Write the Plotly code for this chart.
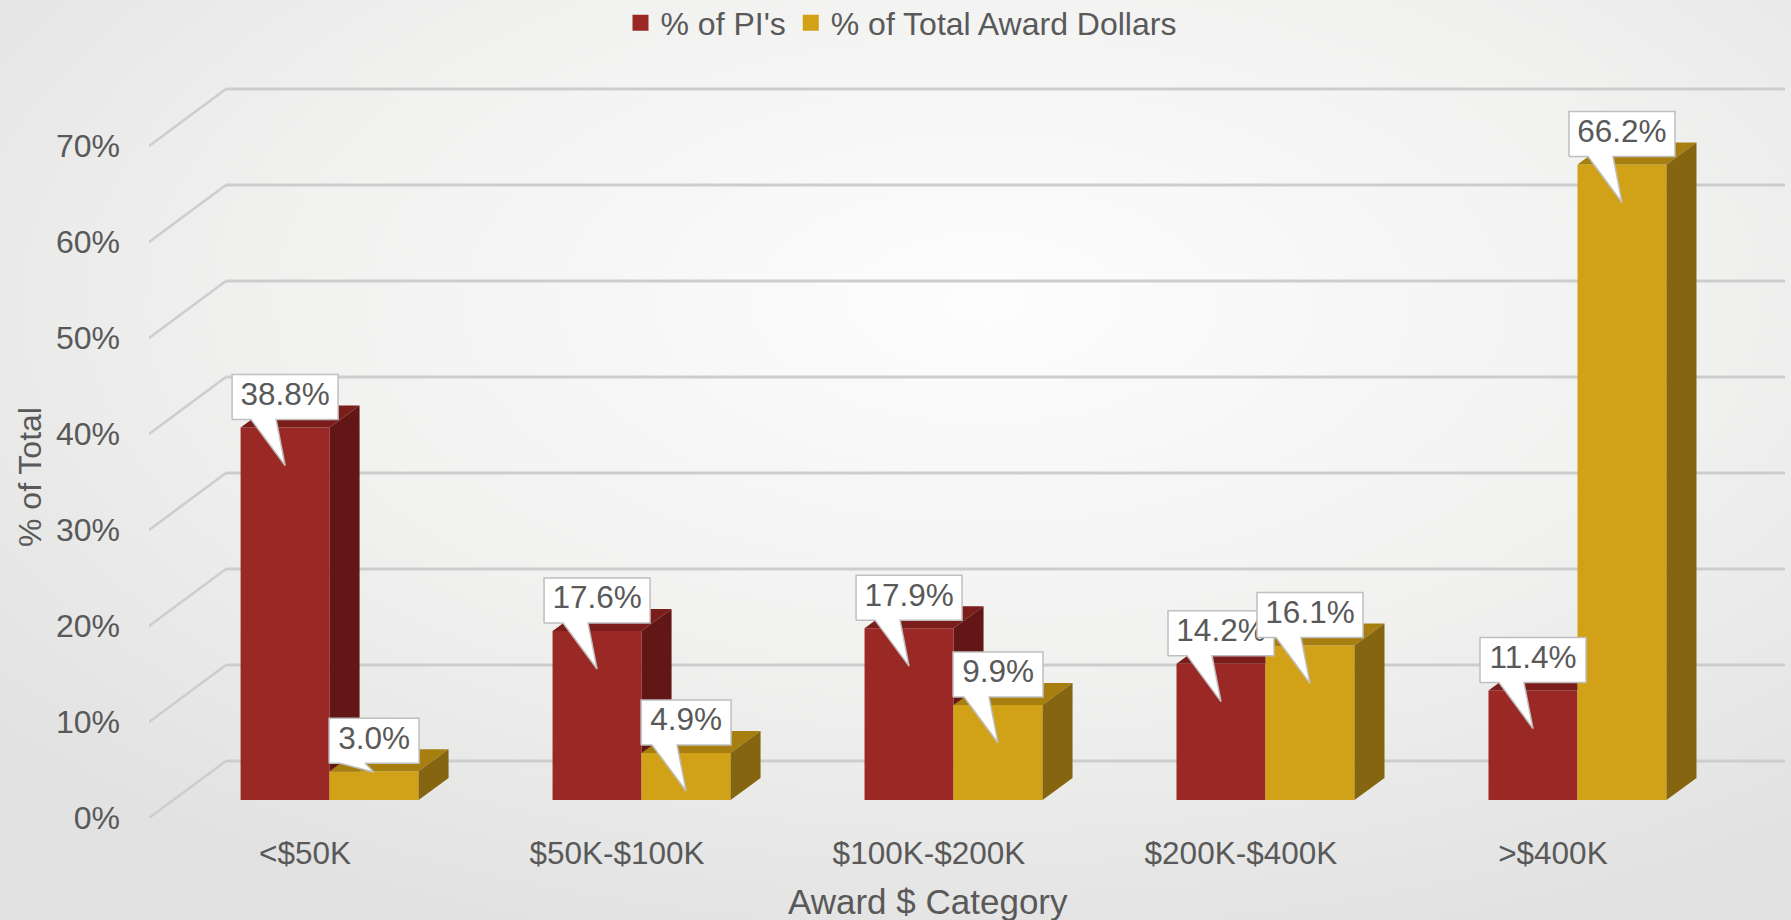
import base64
import plotly.graph_objects as go

# ---------------- data ----------------
categories = ["<$50K", "$50K-$100K", "$100K-$200K", "$200K-$400K", ">$400K"]
pct_pis = [38.8, 17.6, 17.9, 14.2, 11.4]
pct_dollars = [3.0, 4.9, 9.9, 16.1, 66.2]
series_names = ["% of PI's", "% of Total Award Dollars"]
y_tick_values = [0, 10, 20, 30, 40, 50, 60, 70]
y_tick_labels = ["0%", "10%", "20%", "30%", "40%", "50%", "60%", "70%"]
x_title = "Award $ Category"
y_title = "% of Total"

# ---------------- styling / geometry ----------------
FIG_W, FIG_H = 1791, 920
M_L, M_R, M_T, M_B = 149, 6, 85, 102
X_RANGE = [-0.5, 4.744]
Y_RANGE = [0.0, 76.35]
PLOT_W = FIG_W - M_L - M_R
PLOT_H = FIG_H - M_T - M_B
UX = (X_RANGE[1] - X_RANGE[0]) / PLOT_W   # x units per pixel
UY = (Y_RANGE[1] - Y_RANGE[0]) / PLOT_H   # y units per pixel

WALL_DX, WALL_DY = 77 * UX, 57 * UY       # back wall depth offset
BAR_PLANE_DX, BAR_PLANE_DY = 24.6 * UX, 18 * UY  # bars' front-face plane
DEP_DX, DEP_DY = 30 * UX, 22 * UY         # bar depth
BAR_W = 89 * UX

FONT = "Liberation Sans, Arial, sans-serif"
TXT = "#595959"
GRID = "#CDCDCD"
COLORS = {
    "front": ["#9A2824", "#D1A118"],
    "top": ["#7B1D1B", "#A67F10"],
    "side": ["#621716", "#856510"],
}

values = [pct_pis, pct_dollars]


def px_to_paper_x(px):
    return (px - M_L) / PLOT_W


def px_to_paper_y(py):
    return (M_T + PLOT_H - py) / PLOT_H


fig = go.Figure()

# front faces as real bars (on the shifted bar-plane axes)
for s in range(2):
    fig.add_trace(go.Bar(
        x=list(range(len(categories))), y=values[s], name=series_names[s],
        width=BAR_W, offset=-BAR_W if s == 0 else 0,
        marker=dict(color=COLORS["front"][s], line=dict(width=0)),
        xaxis="x2", yaxis="y2", hoverinfo="skip", showlegend=False,
    ))


def poly(pts, color, line_color=None, lw=0):
    xs = [p[0] for p in pts] + [pts[0][0]]
    ys = [p[1] for p in pts] + [pts[0][1]]
    return go.Scatter(
        x=xs, y=ys, mode="lines", fill="toself", fillcolor=color,
        line=dict(color=line_color or color, width=lw),
        xaxis="x2", yaxis="y2", showlegend=False, hoverinfo="skip",
    )


# 3D top and side faces, painter's order
for i in range(len(categories)):
    vr, vy = pct_pis[i], pct_dollars[i]
    xl, xr = i - BAR_W, i
    # red top
    if vy <= vr:
        pts = [(xl, vr), (xr, vr), (xr + DEP_DX, vr + DEP_DY), (xl + DEP_DX, vr + DEP_DY)]
    else:
        t1 = (vy - vr) / DEP_DY
        if t1 >= 1:
            pts = [(xl, vr), (xr, vr), (xr, vr + DEP_DY), (xl + DEP_DX, vr + DEP_DY)]
        else:
            pts = [(xl, vr), (xr, vr), (xr, vy), (xr + t1 * DEP_DX, vy),
                   (xr + DEP_DX, vr + DEP_DY), (xl + DEP_DX, vr + DEP_DY)]
    fig.add_trace(poly(pts, COLORS["top"][0]))
    # red side (only part above the yellow bar)
    if vr > vy:
        pts = [(xr, vy), (xr, vr), (xr + DEP_DX, vr + DEP_DY), (xr + DEP_DX, vy)]
        fig.add_trace(poly(pts, COLORS["side"][0]))
    # yellow top & side
    yl, yr = i, i + BAR_W
    fig.add_trace(poly([(yl, vy), (yr, vy), (yr + DEP_DX, vy + DEP_DY), (yl + DEP_DX, vy + DEP_DY)],
                       COLORS["top"][1]))
    fig.add_trace(poly([(yr, 0), (yr, vy), (yr + DEP_DX, vy + DEP_DY), (yr + DEP_DX, DEP_DY)],
                       COLORS["side"][1]))

# callout data labels
for i in range(len(categories)):
    for s in range(2):
        v = values[s][i]
        label = f"{v:.1f}%"
        cx = i - BAR_W / 2 if s == 0 else i + BAR_W / 2
        w = (106 if len(label) >= 5 else 90) * UX
        bottom = v + 8 * UY
        top = bottom + 45 * UY
        tip = v - 38 * UY if v - 38 * UY > 0 else v - 1 * UY
        pts = [(cx - w / 2, bottom), (cx - 34 * UX, bottom), (cx, tip), (cx - 9 * UX, bottom),
               (cx + w / 2, bottom), (cx + w / 2, top), (cx - w / 2, top)]
        fig.add_trace(poly(pts, "#FFFFFF", line_color="#BFBFBF", lw=1.5))
        fig.add_trace(go.Scatter(
            x=[cx], y=[(bottom + top) / 2], mode="text", text=[label],
            textposition="middle center",
            textfont=dict(family=FONT, size=31.5, color=TXT),
            xaxis="x2", yaxis="y2", showlegend=False, hoverinfo="skip",
        ))

# legend entries (square swatches)
for s in range(2):
    fig.add_trace(go.Scatter(
        x=[None], y=[None], mode="markers", name=series_names[s],
        marker=dict(symbol="square", size=16, color=COLORS["front"][s]),
        showlegend=True, hoverinfo="skip",
    ))

# back wall gridlines + left wall diagonals
shapes = []
for t in y_tick_values:
    shapes.append(dict(type="line", xref="x", yref="y", layer="below",
                       x0=X_RANGE[0] + WALL_DX, x1=len(categories) - 0.5 + WALL_DX,
                       y0=t + WALL_DY, y1=t + WALL_DY,
                       line=dict(color=GRID, width=3)))
    shapes.append(dict(type="line", xref="x", yref="y", layer="below",
                       x0=X_RANGE[0], x1=X_RANGE[0] + WALL_DX,
                       y0=t, y1=t + WALL_DY,
                       line=dict(color=GRID, width=2.5)))

# radial gradient background
svg = (f'<svg xmlns="http://www.w3.org/2000/svg" width="{FIG_W}" height="{FIG_H}" '
       f'viewBox="0 0 {FIG_W} {FIG_H}" preserveAspectRatio="none"><defs>'
       '<radialGradient id="g" cx="0.55" cy="0.33" r="0.72">'
       '<stop offset="0" stop-color="#FDFDFD"/><stop offset="0.55" stop-color="#F1F1F0"/>'
       '<stop offset="1" stop-color="#E2E2E2"/></radialGradient></defs>'
       f'<rect width="{FIG_W}" height="{FIG_H}" fill="url(#g)"/></svg>')
bg_uri = "data:image/svg+xml;base64," + base64.b64encode(svg.encode()).decode()

annotations = [
    dict(text=x_title, xref="paper", yref="paper", x=px_to_paper_x(928), y=px_to_paper_y(901),
         xanchor="center", yanchor="middle", showarrow=False,
         font=dict(family=FONT, size=35, color=TXT)),
    dict(text=y_title, xref="paper", yref="paper", x=px_to_paper_x(30), y=px_to_paper_y(477),
         xanchor="center", yanchor="middle", showarrow=False, textangle=-90,
         font=dict(family=FONT, size=32, color=TXT)),
]

fig.update_layout(
    width=FIG_W, height=FIG_H,
    margin=dict(l=M_L, r=M_R, t=M_T, b=M_B, autoexpand=False),
    paper_bgcolor="#E4E4E4", plot_bgcolor="rgba(0,0,0,0)",
    barmode="overlay",
    font=dict(family=FONT, color=TXT, size=32),
    shapes=shapes,
    annotations=annotations,
    images=[dict(source=bg_uri, xref="paper", yref="paper",
                 x=-M_L / PLOT_W, y=(PLOT_H + M_T) / PLOT_H,
                 sizex=FIG_W / PLOT_W, sizey=FIG_H / PLOT_H,
                 xanchor="left", yanchor="top", sizing="stretch", layer="below")],
    legend=dict(orientation="h", x=px_to_paper_x(901), xanchor="center",
                y=px_to_paper_y(23), yanchor="middle", itemsizing="trace",
                font=dict(family=FONT, size=32, color=TXT),
                bgcolor="rgba(0,0,0,0)", itemclick=False),
    xaxis=dict(range=X_RANGE, tickmode="array", tickvals=list(range(len(categories))),
               ticktext=categories, showgrid=False, zeroline=False, showline=False,
               ticks="", ticklabelstandoff=13, tickfont=dict(size=31.5, color=TXT),
               automargin=False, fixedrange=True),
    yaxis=dict(range=Y_RANGE, tickmode="array", tickvals=y_tick_values, ticktext=y_tick_labels,
               showgrid=False, zeroline=False, showline=False, ticks="",
               ticklabelstandoff=28, tickfont=dict(size=32, color=TXT),
               automargin=False, fixedrange=True),
    xaxis2=dict(range=[X_RANGE[0] - BAR_PLANE_DX, X_RANGE[1] - BAR_PLANE_DX],
                overlaying="x", visible=False, fixedrange=True),
    yaxis2=dict(range=[Y_RANGE[0] - BAR_PLANE_DY, Y_RANGE[1] - BAR_PLANE_DY],
                overlaying="y", visible=False, fixedrange=True),
)

fig.write_html(
    "out.html",
    config={"displayModeBar": False},
    post_script="document.body.style.margin='0';document.body.style.overflow='hidden';",
)
